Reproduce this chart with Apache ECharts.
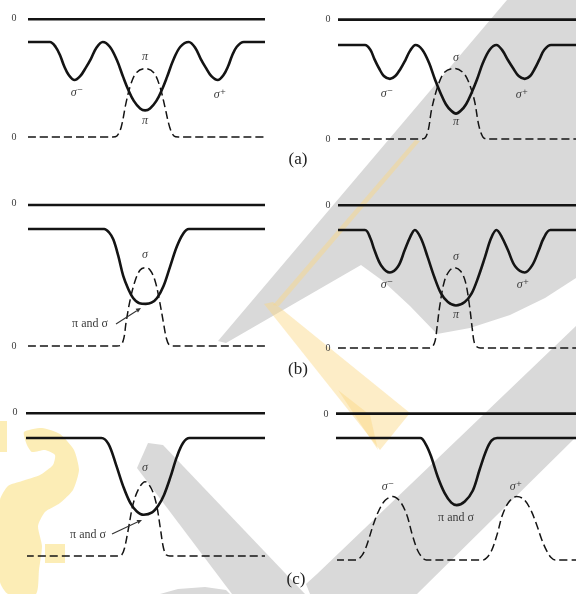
<!DOCTYPE html>
<html>
<head>
<meta charset="utf-8">
<script src="https://cdn.jsdelivr.net/npm/echarts@6/dist/echarts.min.js"></script>
<style>
  html, body { margin: 0; padding: 0; background: #ffffff; }
  #chart { width: 576px; height: 594px; }
</style>
</head>
<body>
<div id="chart"></div>
<script>
// Zeeman line profiles. x: wavelength offset in units of the σ splitting;
// y: solid = intensity (continuum = 1), dashed = polarised signal (0 = baseline).

// ---- zero levels drawn as the upper reference line of each panel ----
const zeroLevelAL = 1.24, zeroLevelAR = 1.27;
const zeroLevelBL = 1.205, zeroLevelBR = 1.21;
const zeroLevelCL = 1.21, zeroLevelCR = 1.20;

// ---- (a) left ----
const solidAL = [[-1.66,1],[-1.35,1],[-1.27,0.95],[-1.2,0.85],[-1.15,0.75],[-1.08,0.65],[-1.0,0.6],[-0.92,0.64],[-0.84,0.73],[-0.77,0.82],[-0.69,0.94],[-0.6,1.0],
  [-0.5,0.95],[-0.4,0.81],[-0.31,0.63],[-0.24,0.5],[-0.16,0.38],[-0.07,0.3],[0,0.28],[0.07,0.3],[0.16,0.38],[0.24,0.5],[0.31,0.63],[0.4,0.81],[0.5,0.95],
  [0.62,1.0],[0.71,0.94],[0.79,0.82],[0.86,0.73],[0.94,0.64],[1.03,0.6],[1.11,0.65],[1.18,0.75],[1.23,0.85],[1.3,0.95],[1.4,1],[1.7,1]];
const dashedAL = [[-1.66,0],[-0.46,0],[-0.4,0.01],[-0.34,0.1],[-0.27,0.36],[-0.2,0.56],[-0.12,0.68],[0,0.72],[0.12,0.68],[0.21,0.53],[0.28,0.32],[0.35,0.1],[0.41,0.01],[0.47,0],[1.7,0]];

// ---- (a) right ----
const solidAR = [[-1.75,1],[-1.35,1],[-1.27,0.95],[-1.21,0.85],[-1.14,0.75],[-1.07,0.67],[-0.98,0.64],[-0.9,0.67],[-0.82,0.75],[-0.75,0.84],[-0.68,0.94],[-0.6,1.0],
  [-0.5,0.95],[-0.4,0.81],[-0.31,0.63],[-0.23,0.49],[-0.15,0.37],[-0.07,0.3],[0,0.27],[0.07,0.3],[0.15,0.37],[0.23,0.49],[0.31,0.63],[0.4,0.81],[0.5,0.95],
  [0.6,1.0],[0.69,0.94],[0.77,0.84],[0.85,0.75],[0.93,0.67],[1.02,0.64],[1.1,0.67],[1.17,0.75],[1.24,0.85],[1.31,0.95],[1.41,1],[1.78,1]];
const dashedAR = [[-1.75,0],[-0.52,0],[-0.46,0.01],[-0.41,0.1],[-0.36,0.32],[-0.27,0.56],[-0.17,0.71],[-0.02,0.75],[0.1,0.71],[0.18,0.62],[0.27,0.42],[0.34,0.14],[0.4,0.02],[0.46,0],[1.78,0]];

// ---- (b) left ----
const solidBL = [[-1.66,1],[-0.58,1],[-0.51,0.97],[-0.45,0.91],[-0.38,0.77],[-0.31,0.6],[-0.24,0.49],[-0.17,0.41],[-0.08,0.365],[0.01,0.36],[0.09,0.37],[0.17,0.41],[0.26,0.51],[0.35,0.67],[0.45,0.85],[0.54,0.96],[0.62,1],[1.7,1]];
const dashedBL = [[-1.66,0],[-0.4,0],[-0.34,0.01],[-0.3,0.07],[-0.27,0.2],[-0.21,0.4],[-0.14,0.56],[-0.07,0.65],[0,0.67],[0.07,0.65],[0.14,0.56],[0.2,0.4],[0.26,0.2],[0.3,0.07],[0.34,0.01],[0.4,0],[1.7,0]];

// ---- (b) right ----
const solidBR = [[-1.75,1],[-1.35,1],[-1.27,0.93],[-1.21,0.83],[-1.11,0.7],[-0.98,0.64],[-0.86,0.69],[-0.76,0.83],[-0.68,0.94],[-0.61,1.0],
  [-0.52,0.93],[-0.42,0.77],[-0.32,0.6],[-0.22,0.46],[-0.12,0.39],[0,0.36],[0.13,0.39],[0.23,0.46],[0.33,0.6],[0.43,0.77],[0.52,0.93],
  [0.6,1.0],[0.68,0.94],[0.77,0.83],[0.88,0.69],[1.02,0.64],[1.13,0.7],[1.23,0.83],[1.3,0.93],[1.4,1],[1.78,1]];
const dashedBR = [[-1.75,0],[-0.4,0],[-0.35,0.01],[-0.31,0.06],[-0.28,0.18],[-0.24,0.36],[-0.17,0.57],[-0.09,0.66],[-0.02,0.68],[0.07,0.65],[0.14,0.56],[0.2,0.36],[0.24,0.17],[0.27,0.05],[0.31,0.01],[0.36,0],[1.78,0]];

// ---- (c) left ----
const solidCL = [[-1.69,1],[-0.62,1],[-0.52,0.95],[-0.41,0.77],[-0.31,0.59],[-0.21,0.45],[-0.12,0.38],[-0.02,0.35],[0.1,0.37],[0.19,0.43],[0.27,0.52],[0.36,0.67],[0.45,0.84],[0.54,0.96],[0.63,1],[1.7,1]];
const dashedCL = [[-1.69,0],[-0.38,0],[-0.33,0.01],[-0.29,0.07],[-0.24,0.22],[-0.17,0.44],[-0.09,0.57],[0,0.63],[0.09,0.57],[0.16,0.44],[0.22,0.22],[0.26,0.07],[0.3,0.01],[0.35,0],[1.7,0]];

// ---- (c) right ----
const solidCR = [[-1.78,1],[-0.53,1],[-0.45,0.95],[-0.37,0.85],[-0.27,0.68],[-0.17,0.55],[-0.07,0.47],[0.01,0.45],[0.13,0.48],[0.25,0.57],[0.35,0.74],[0.45,0.9],[0.53,0.98],[0.61,1],[1.78,1]];
const dashedCR = [[-1.78,0],[-1.48,0],[-1.42,0.02],[-1.36,0.07],[-1.3,0.16],[-1.22,0.3],[-1.14,0.41],[-1.05,0.49],[-0.94,0.52],[-0.83,0.48],[-0.73,0.37],[-0.65,0.21],[-0.57,0.08],[-0.5,0.02],[-0.44,0],
  [0.4,0],[0.46,0.02],[0.53,0.08],[0.61,0.21],[0.69,0.37],[0.79,0.48],[0.9,0.52],[1.0,0.5],[1.1,0.42],[1.19,0.3],[1.27,0.17],[1.35,0.07],[1.41,0.02],[1.47,0],[1.78,0]];

// ---- panel layout (pixel placement of each plotting box) ----
const INK = '#141414';
const Y_MAX = 1.3;
const columns = {
  L: { left: 28, width: 237, xMin: -1.66, xMax: 1.70 },
  R: { left: 338, width: 238, xMin: -1.75, xMax: 1.78 }
};
const panels = [
  { col: 'L', base: 137, scale: 95,  zero: zeroLevelAL, solid: solidAL, dashed: dashedAL },
  { col: 'R', base: 139, scale: 94,  zero: zeroLevelAR, solid: solidAR, dashed: dashedAR },
  { col: 'L', base: 346, scale: 117, zero: zeroLevelBL, solid: solidBL, dashed: dashedBL },
  { col: 'R', base: 348, scale: 118, zero: zeroLevelBR, solid: solidBR, dashed: dashedBR },
  { col: 'L', base: 556, scale: 118, zero: zeroLevelCL, solid: solidCL, dashed: dashedCL },
  { col: 'R', base: 560, scale: 122, zero: zeroLevelCR, solid: solidCR, dashed: dashedCR }
];

const grids = [], xAxes = [], yAxes = [], series = [];
panels.forEach((p, i) => {
  const c = columns[p.col];
  const h = Y_MAX * p.scale;
  grids.push({ left: c.left, width: c.width, top: p.base - h, height: h, containLabel: false });
  xAxes.push({ type: 'value', gridIndex: i, min: c.xMin, max: c.xMax, show: false });
  yAxes.push({ type: 'value', gridIndex: i, min: 0, max: Y_MAX, show: false });
  const first = p.solid[0][0], last = p.solid[p.solid.length - 1][0];
  series.push({
    type: 'line', xAxisIndex: i, yAxisIndex: i, data: [[first, p.zero], [last, p.zero]],
    showSymbol: false, clip: false, silent: true, z: 3,
    lineStyle: { color: INK, width: 2.6, cap: 'butt' }
  });
  series.push({
    type: 'line', xAxisIndex: i, yAxisIndex: i, data: p.solid,
    smooth: 0.35, showSymbol: false, clip: false, silent: true, z: 3,
    lineStyle: { color: INK, width: 2.6, join: 'round' }
  });
  series.push({
    type: 'line', xAxisIndex: i, yAxisIndex: i, data: p.dashed,
    smooth: 0.35, showSymbol: false, clip: false, silent: true, z: 3,
    lineStyle: { color: INK, width: 1.5, type: [8, 4] }
  });
});

// ---- annotation text ----
const SERIF = '"Liberation Serif", "DejaVu Serif", serif';
const TEXT_INK = '#3c3c3c';
function txt(s, x, y, size, italic, color) {
  return {
    type: 'text', z: 20, silent: true,
    style: {
      text: s, x: x, y: y, fill: color || TEXT_INK,
      font: (italic ? 'italic ' : '') + size + 'px ' + SERIF,
      textAlign: 'center', textVerticalAlign: 'middle', align: 'center', verticalAlign: 'middle'
    }
  };
}
function arrow(x1, y1, x2, y2) {
  const a = Math.atan2(y2 - y1, x2 - x1), L = 5, W = 2.2;
  const bx = x2 - L * Math.cos(a), by = y2 - L * Math.sin(a);
  return [
    { type: 'line', z: 20, silent: true, shape: { x1: x1, y1: y1, x2: bx, y2: by }, style: { stroke: '#333', lineWidth: 1.1 } },
    { type: 'polygon', z: 20, silent: true,
      shape: { points: [[x2, y2], [bx - W * Math.sin(a), by + W * Math.cos(a)], [bx + W * Math.sin(a), by - W * Math.cos(a)]] },
      style: { fill: '#333' } }
  ];
}

const G = 12;   // greek label size
const labels = [
  // (a)
  txt('0', 14, 18, 10, false), txt('0', 14, 137, 10, false),
  txt('π', 145, 57, G, true), txt('π', 145, 121, G, true),
  txt('σ⁻', 77, 93, G, true), txt('σ⁺', 220, 95, G, true),
  txt('0', 328, 19, 10, false), txt('0', 328, 139, 10, false),
  txt('σ', 456, 58, G, true), txt('π', 456, 122, G, true),
  txt('σ⁻', 387, 94, G, true), txt('σ⁺', 522, 95, G, true),
  txt('(a)', 298, 160, 17, false, '#222'),
  // (b)
  txt('0', 14, 203, 10, false), txt('0', 14, 346, 10, false),
  txt('σ', 145, 255, G, true), txt('π and σ', 90, 324, 12, false),
  txt('0', 328, 205, 10, false), txt('0', 328, 348, 10, false),
  txt('σ', 456, 257, G, true), txt('π', 456, 315, G, true),
  txt('σ⁻', 387, 285, G, true), txt('σ⁺', 523, 285, G, true),
  txt('(b)', 298, 370, 17, false, '#222'),
  // (c)
  txt('0', 15, 412, 10, false),
  txt('σ', 145, 468, G, true), txt('π and σ', 88, 535, 12, false),
  txt('0', 326, 414, 10, false),
  txt('σ⁻', 388, 487, G, true), txt('σ⁺', 516, 487, G, true),
  txt('π and σ', 456, 518, 12, false),
  txt('(c)', 296, 580, 17, false, '#222')
].concat(arrow(116, 324, 141, 308), arrow(112, 534, 142, 520));

// ---- background stamp shapes ----
const GREY = '#d9d9d9';
const PALE = 'rgba(250, 214, 130, 0.45)';
const YELLOW = 'rgba(250, 220, 110, 0.5)';
function poly(points, fill, smooth) {
  return { type: 'polygon', z: 0, silent: true, shape: { points: points, smooth: smooth || 0 }, style: { fill: fill } };
}
const stamp = [
  poly([[507,0],[576,0],[576,278],[545,298],[510,315],[470,328],[437,334],[410,306],[383,281],[361,265],[226,343],[218,341]], GREY),
  poly([[317,574],[576,326],[576,437],[417,594],[310,594],[306,584]], GREY),
  poly([[148,443],[163,445],[305,594],[232,594],[137,468]], GREY),
  poly([[160,594],[178,589],[205,587],[226,590],[230,594]], GREY),
  poly([[415,140],[420,141],[279,306],[273,305]], PALE),
  poly([[264,304],[273,302],[410,413],[380,450]], PALE),
  poly([[338,390],[370,415],[378,450]], PALE),
  poly([[24,432],[42,428],[60,434],[74,450],[79,470],[73,490],[60,503],[45,512],[38,526],[42,546],[39,570],[36,594],
        [8,594],[0,582],[0,500],[8,486],[22,481],[40,475],[53,465],[55,455],[45,450],[32,452],[27,445]], YELLOW, 0.2),
  poly([[0,421],[7,421],[7,452],[0,452]], YELLOW),
  poly([[45,544],[65,544],[65,563],[45,563]], YELLOW)
];

const chart = echarts.init(document.getElementById('chart'), null, { renderer: 'canvas' });
chart.setOption({
  backgroundColor: '#ffffff',
  animation: false,
  grid: grids,
  xAxis: xAxes,
  yAxis: yAxes,
  series: series,
  graphic: { elements: stamp.concat(labels) }
});
</script>
</body>
</html>
